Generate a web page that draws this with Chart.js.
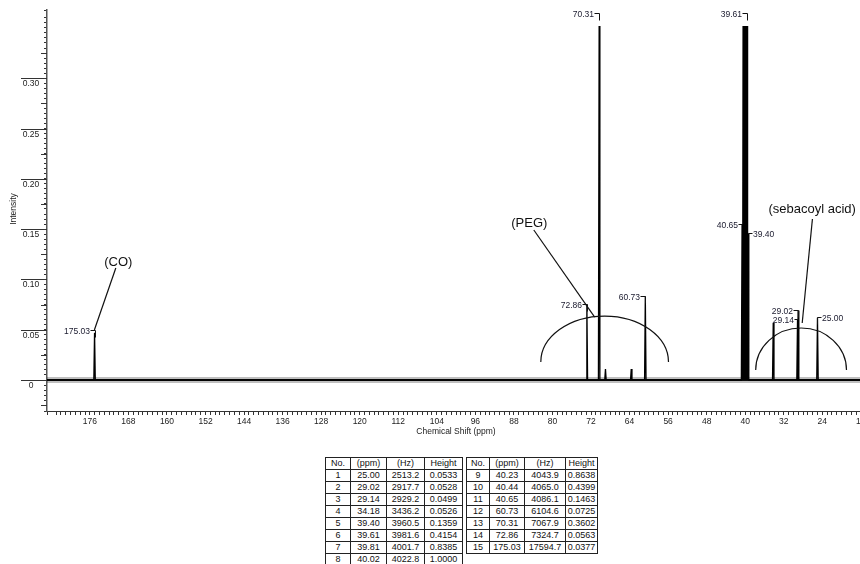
<!DOCTYPE html>
<html lang="en">
<head>
<meta charset="UTF-8">
<title>13C NMR spectrum</title>
<script src="https://cdn.jsdelivr.net/npm/chart.js"></script>
<style>
  body {
    margin: 0;
    width: 860px;
    height: 564px;
    overflow: hidden;
    position: relative;
    background: #fff;
    font-family: 'Liberation Sans', Arial, sans-serif;
  }
  #spectrum { position: absolute; left: 0; top: 0; }
  .peaks {
    position: absolute;
    top: 457px;
    border-collapse: collapse;
    table-layout: fixed;
    font-size: 9px;
    color: #111;
    border: 1.5px solid #222;
  }
  .peaks td {
    border: 1px solid #222;
    padding: 0;
    height: 11px;
    line-height: 11px;
    text-align: center;
    white-space: nowrap;
  }
</style>
</head>
<body>
  <canvas id="spectrum" width="880" height="440"></canvas>
  <table class="peaks" id="tableLeft" style="left:325px">
    <colgroup><col style="width:25px"><col style="width:36px"><col style="width:38px"><col style="width:38px"></colgroup>
    <tbody></tbody>
  </table>
  <table class="peaks" id="tableRight" style="left:466px">
    <colgroup><col style="width:23px"><col style="width:35px"><col style="width:41px"><col style="width:32px"></colgroup>
    <tbody></tbody>
  </table>

<script>
// ---- spectrum peaks as they appear in the plot (ppm, intensity) ----
const peakShift  = [175.03, 72.86, 70.31, 69.0, 63.65, 60.73,
                    40.65, 40.44, 40.23, 40.02, 39.81, 39.61, 39.40,
                    34.18, 29.14, 29.02, 25.00];
const peakHeight = [0.047, 0.075, 0.352, 0.011, 0.011, 0.083,
                    0.155, 0.352, 0.352, 0.352, 0.352, 0.352, 0.146,
                    0.057, 0.060, 0.069, 0.062];

// axis range and ticks
const xMax = 184.9, xMin = 12.44;
const yMin = -0.0308, yMax = 0.3678;
const xTickLabels = [176, 168, 160, 152, 144, 136, 128, 120, 112, 104, 96, 88, 80, 72, 64, 56, 48, 40, 32, 24, 16];
const yMajorTicks = [0, 0.05, 0.10, 0.15, 0.20, 0.25, 0.30];
const yMajorLabels = ['0', '0.05', '0.10', '0.15', '0.20', '0.25', '0.30'];
const yMidTicks = [-0.025, 0.025, 0.075, 0.125, 0.175, 0.225, 0.275, 0.325];

// peak labels (text, shift, level where the label sits)
const labelText  = ['175.03', '72.86', '70.31', '60.73', '39.61', '40.65', '39.40', '29.02', '29.14', '25.00'];
const labelShift = [175.03, 72.86, 70.31, 60.73, 39.61, 40.65, 39.40, 29.02, 29.14, 25.00];
const labelLevel = [0.0497, 0.0755, 0.3648, 0.084, 0.3648, 0.155, 0.146, 0.0696, 0.0606, 0.0623];
const labelKind  = ['hookL', 'hookL', 'hookL', 'hookL', 'hookL', 'dashL', 'dashR', 'hookL', 'dashL', 'hookR'];

// group annotations
const noteText   = ['(CO)', '(PEG)', '(sebacoyl acid)'];
const noteShift  = [170.1, 84.8, 26.11];
const noteLevel  = [0.1173, 0.1561, 0.170];
const leaderFrom = [[170.62, 0.1113], [83.87, 0.1491], [26.05, 0.160]];
const leaderTo   = [[175.07, 0.0497], [71.24, 0.0626], [28.17, 0.0567]];
const arcCentre  = [[69.17, 0.0179], [28.4, 0.0099]];
const arcRadius  = [[13.25, 0.0457], [9.42, 0.0418]];

// peak table
const tabNo     = [1, 2, 3, 4, 5, 6, 7, 8, 9, 10, 11, 12, 13, 14, 15];
const tabPpm    = ['25.00', '29.02', '29.14', '34.18', '39.40', '39.61', '39.81', '40.02', '40.23', '40.44', '40.65', '60.73', '70.31', '72.86', '175.03'];
const tabHz     = ['2513.2', '2917.7', '2929.2', '3436.2', '3960.5', '3981.6', '4001.7', '4022.8', '4043.9', '4065.0', '4086.1', '6104.6', '7067.9', '7324.7', '17594.7'];
const tabHeight = ['0.0533', '0.0528', '0.0499', '0.0526', '0.1359', '0.4154', '0.8385', '1.0000', '0.8638', '0.4399', '0.1463', '0.0725', '0.3602', '0.0563', '0.0377'];

function fillTable(id, from, to) {
  const body = document.querySelector('#' + id + ' tbody');
  let html = '<tr><td>No.</td><td>(ppm)</td><td>(Hz)</td><td>Height</td></tr>';
  for (let i = from; i < to; i++) {
    html += '<tr><td>' + tabNo[i] + '</td><td>' + tabPpm[i] + '</td><td>' + tabHz[i] + '</td><td>' + tabHeight[i] + '</td></tr>';
  }
  body.innerHTML = html;
}
fillTable('tableLeft', 0, 8);
fillTable('tableRight', 8, 15);

// build the line through the peaks
const halfWidth = 0.15;
const spectrum = [{x: xMax, y: 0}];
peakShift.forEach((p, i) => {
  spectrum.push({x: p + halfWidth, y: 0}, {x: p, y: peakHeight[i]}, {x: p - halfWidth, y: 0});
});
spectrum.push({x: xMin, y: 0});

const FONT = "'Liberation Sans', Arial, sans-serif";

const annotate = {
  id: 'annotate',
  afterDatasetsDraw(chart) {
    const ctx = chart.ctx;
    const xs = chart.scales.x, ys = chart.scales.y;
    const px = v => xs.getPixelForValue(v);
    const py = v => ys.getPixelForValue(v);
    ctx.save();
    ctx.strokeStyle = '#111';
    ctx.fillStyle = '#1a1a2e';
    ctx.lineWidth = 1;
    ctx.font = '8.5px ' + FONT;
    ctx.textBaseline = 'middle';

    // peak labels
    labelText.forEach((t, i) => {
      const x = Math.round(px(labelShift[i])) + 0.5;
      const y = Math.round(py(labelLevel[i])) + 0.5;
      ctx.beginPath();
      if (labelKind[i] === 'hookL') {
        ctx.moveTo(x - 5, y); ctx.lineTo(x, y); ctx.lineTo(x, y + 7);
        ctx.textAlign = 'right';
        ctx.fillText(t, x - 5.5, y + 1);
      } else if (labelKind[i] === 'hookR') {
        ctx.moveTo(x + 4, y); ctx.lineTo(x, y); ctx.lineTo(x, y + 7);
        ctx.textAlign = 'left';
        ctx.fillText(t, x + 4.5, y + 1);
      } else if (labelKind[i] === 'dashL') {
        ctx.moveTo(x - 4, y); ctx.lineTo(x, y);
        ctx.textAlign = 'right';
        ctx.fillText(t, x - 4.5, y + 1);
      } else {
        ctx.moveTo(x, y); ctx.lineTo(x + 4, y);
        ctx.textAlign = 'left';
        ctx.fillText(t, x + 4.5, y + 1);
      }
      ctx.stroke();
    });

    // group notes, leader lines and arcs
    ctx.font = '13px ' + FONT;
    ctx.fillStyle = '#111';
    ctx.textAlign = 'center';
    noteText.forEach((t, i) => {
      ctx.fillText(t, px(noteShift[i]), py(noteLevel[i]));
      ctx.beginPath();
      ctx.moveTo(px(leaderFrom[i][0]), py(leaderFrom[i][1]));
      ctx.lineTo(px(leaderTo[i][0]), py(leaderTo[i][1]));
      ctx.lineWidth = 1.2;
      ctx.stroke();
    });
    arcCentre.forEach((c, i) => {
      const cx = px(c[0]), cy = py(c[1]);
      const rx = Math.abs(px(c[0] + arcRadius[i][0]) - cx);
      const ry = Math.abs(py(c[1] + arcRadius[i][1]) - cy);
      ctx.beginPath();
      ctx.ellipse(cx, cy, rx, ry, 0, Math.PI, 2 * Math.PI);
      ctx.lineWidth = 1.2;
      ctx.stroke();
    });
    ctx.restore();
  },
  afterDraw(chart) {
    const ctx = chart.ctx;
    const ys = chart.scales.y;
    const left = chart.chartArea.left;
    ctx.save();
    ctx.strokeStyle = '#333';
    ctx.fillStyle = '#222';
    ctx.lineWidth = 1;
    ctx.font = '8.5px ' + FONT;
    ctx.textAlign = 'center';
    ctx.textBaseline = 'middle';
    yMajorTicks.forEach((v, i) => {
      const y = Math.round(ys.getPixelForValue(v)) + 0.5;
      ctx.beginPath();
      ctx.moveTo(21, y); ctx.lineTo(left, y);
      ctx.stroke();
      ctx.fillText(yMajorLabels[i], 31, y + 5.5);
    });
    yMidTicks.forEach(v => {
      const y = Math.round(ys.getPixelForValue(v)) + 0.5;
      ctx.beginPath();
      ctx.moveTo(left - 6, y); ctx.lineTo(left, y);
      ctx.stroke();
    });
    // axis titles
    ctx.font = '8.5px ' + FONT;
    ctx.fillText('Chemical Shift (ppm)', 456, 432);
    ctx.translate(14, 209);
    ctx.rotate(-Math.PI / 2);
    ctx.fillText('Intensity', 0, 0);
    ctx.restore();
  }
};

new Chart(document.getElementById('spectrum'), {
  type: 'scatter',
  data: {
    datasets: [
      {
        // faint noise band along the baseline
        data: [{x: xMax, y: 0}, {x: xMin, y: 0}],
        showLine: true,
        borderColor: 'rgba(0,0,0,0.25)',
        borderWidth: 6,
        pointRadius: 0
      },
      {
        data: spectrum,
        showLine: true,
        borderColor: '#000',
        borderWidth: 1.3,
        pointRadius: 0,
        tension: 0
      },
      {
        // darker core of the baseline
        data: [{x: xMax, y: 0}, {x: xMin, y: 0}],
        showLine: true,
        borderColor: '#111',
        borderWidth: 2.2,
        pointRadius: 0
      }
    ]
  },
  options: {
    responsive: false,
    animation: false,
    events: [],
    layout: { padding: { top: 10, left: 0, right: 0, bottom: 0 } },
    plugins: { legend: { display: false }, tooltip: { enabled: false } },
    scales: {
      x: {
        type: 'linear',
        reverse: true,
        min: xMin,
        max: xMax,
        afterFit: s => { s.height = 29; },
        border: { display: true, color: '#333', width: 1 },
        grid: { drawOnChartArea: false, drawTicks: true, tickLength: 4, color: '#333' },
        ticks: {
          stepSize: 1,
          autoSkip: false,
          maxRotation: 0,
          padding: 2,
          color: '#222',
          font: { family: FONT, size: 8.5 },
          callback: v => {
            const r = Math.round(v);
            return (Math.abs(v - r) < 1e-6 && xTickLabels.includes(r)) ? String(r) : '';
          }
        }
      },
      y: {
        type: 'linear',
        min: yMin,
        max: yMax,
        afterFit: s => { s.width = 47; },
        border: { display: true, color: '#555', width: 1.5 },
        grid: { drawOnChartArea: false, drawTicks: true, tickLength: 3, color: '#333' },
        ticks: { stepSize: 0.005, autoSkip: false, display: false }
      }
    }
  },
  plugins: [annotate]
});
</script>
</body>
</html>
